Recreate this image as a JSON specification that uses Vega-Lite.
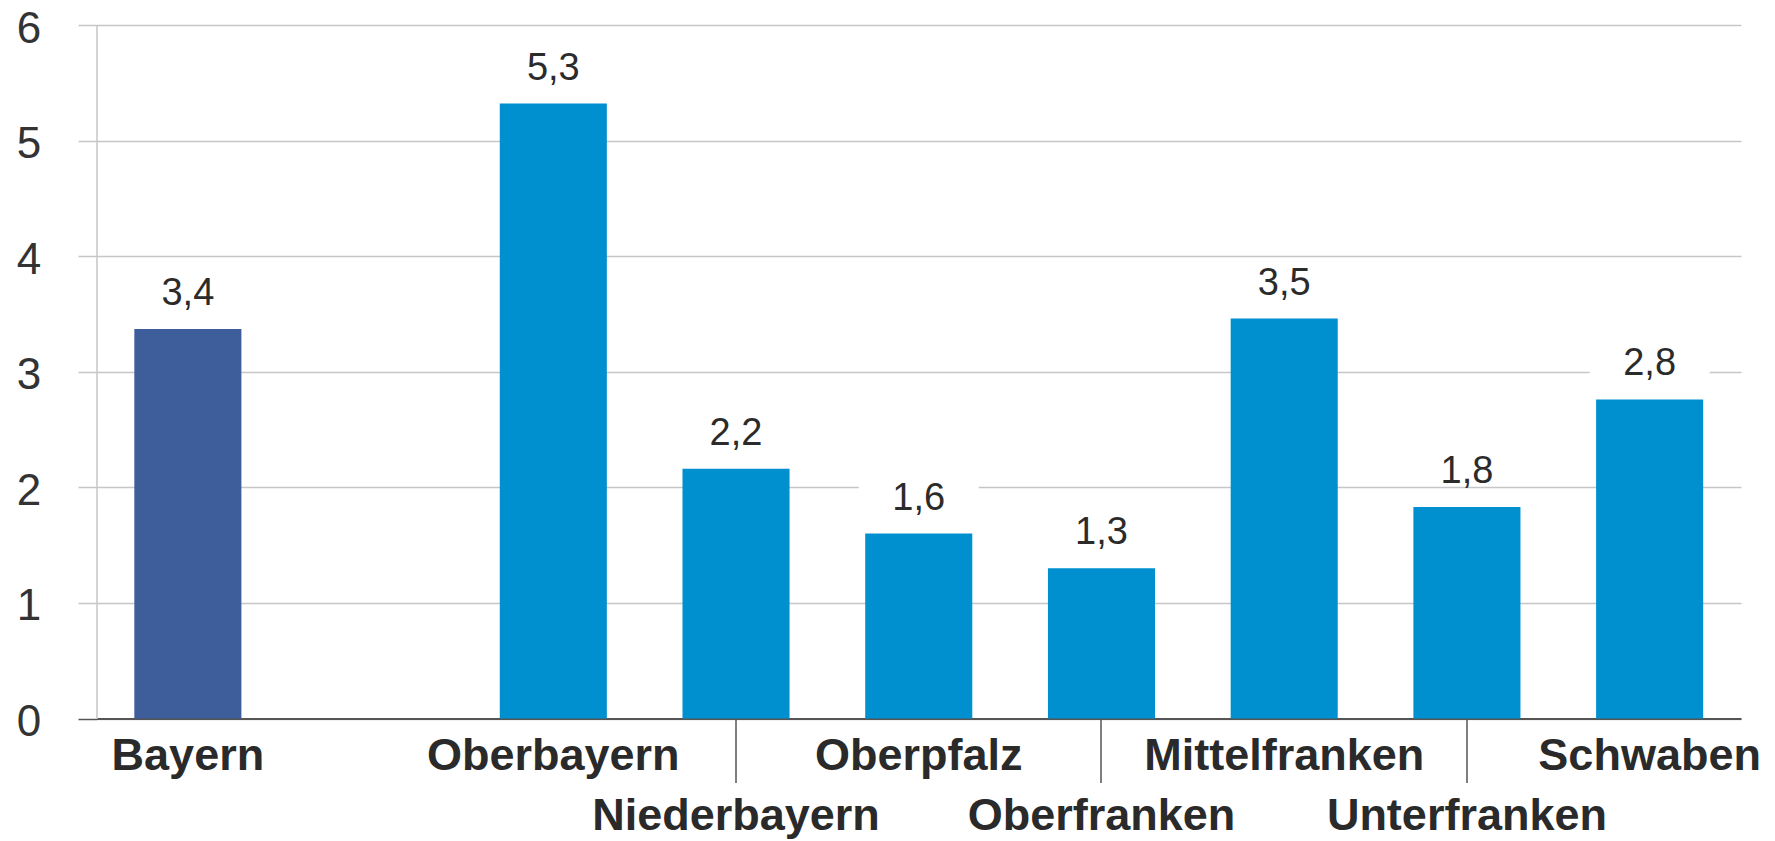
{
  "$schema": "https://vega.github.io/schema/vega-lite/v6.json",
  "width": 1644.5,
  "height": 693.5,
  "autosize": {"type": "none"},
  "padding": {"left": 96.5, "top": 25, "right": 34, "bottom": 122.5},
  "background": "#ffffff",
  "config": {
    "view": {"stroke": null},
    "locale": {"number": {"decimal": ",", "thousands": ".", "grouping": [3], "currency": ["", " €"]}},
    "font": "Liberation Sans"
  },
  "data": {
    "values": [
      {"region": "Bayern", "type": "Land", "value": 3.37},
      {"region": "Oberbayern", "type": "Regierungsbezirk", "value": 5.32},
      {"region": "Niederbayern", "type": "Regierungsbezirk", "value": 2.16},
      {"region": "Oberpfalz", "type": "Regierungsbezirk", "value": 1.6},
      {"region": "Oberfranken", "type": "Regierungsbezirk", "value": 1.3},
      {"region": "Mittelfranken", "type": "Regierungsbezirk", "value": 3.46},
      {"region": "Unterfranken", "type": "Regierungsbezirk", "value": 1.83},
      {"region": "Schwaben", "type": "Regierungsbezirk", "value": 2.76}
    ]
  },
  "encoding": {
    "x": {
      "field": "region",
      "type": "nominal",
      "sort": null,
      "scale": {
        "domain": ["Bayern", "", "Oberbayern", "Niederbayern", "Oberpfalz", "Oberfranken", "Mittelfranken", "Unterfranken", "Schwaben"],
        "paddingInner": 0.414,
        "paddingOuter": 0.207
      },
      "axis": {
        "title": null,
        "labelAngle": 0,
        "labelFont": "Liberation Sans",
        "labelFontWeight": "bold",
        "labelFontSize": 45,
        "labelColor": "#2a2a2a",
        "labelLimit": 0,
        "labelOverlap": false,
        "labelBound": false,
        "labelFlush": false,
        "labelBaseline": "top",
        "labelLineHeight": 60,
        "labelExpr": "indexof(['Niederbayern','Oberfranken','Unterfranken'], datum.value) >= 0 ? ['', datum.value] : datum.value",
        "tickSize": 64,
        "tickWidth": 1.5,
        "tickColor": {"condition": {"test": "indexof(['Niederbayern','Oberfranken','Unterfranken'], datum.value) >= 0", "value": "#555555"}, "value": "transparent"},
        "labelPadding": -49,
        "domainColor": "#555555",
        "domainWidth": 2,
        "grid": false
      }
    },
    "y": {
      "field": "value",
      "type": "quantitative",
      "scale": {"domain": [0, 6], "nice": false},
      "axis": {
        "title": null,
        "values": [0, 1, 2, 3, 4, 5, 6],
        "format": "d",
        "labelFont": "Liberation Sans",
        "labelFontSize": 44,
        "labelColor": "#333333",
        "labelPadding": 37.3,
        "labelOffset": 4,
        "tickSize": 18.5,
        "tickWidth": 1.5,
        "tickColor": {"condition": {"test": "datum.value === 0", "value": "#555555"}, "value": "#c6c6c6"},
        "domainColor": "#c6c6c6",
        "domainWidth": 1.5,
        "grid": true,
        "gridColor": "#c6c6c6",
        "gridWidth": 1.5
      }
    }
  },
  "layer": [
    {
      "mark": {"type": "bar"},
      "encoding": {
        "color": {
          "field": "type",
          "type": "nominal",
          "scale": {"domain": ["Land", "Regierungsbezirk"], "range": ["#3d5e9b", "#0090d0"]},
          "legend": null
        }
      }
    },
    {
      "mark": {
        "type": "point",
        "shape": "M-1,-0.27L1,-0.27L1,0.27L-1,0.27Z",
        "size": 14400,
        "filled": true,
        "fill": "#ffffff",
        "opacity": 1,
        "strokeWidth": 0,
        "yOffset": -38
      }
    },
    {
      "mark": {
        "type": "text",
        "baseline": "alphabetic",
        "align": "center",
        "dy": -24,
        "fontSize": 38,
        "font": "Liberation Sans",
        "color": "#2b2b2b"
      },
      "encoding": {
        "text": {"field": "value", "type": "quantitative", "format": ".1f"}
      }
    }
  ]
}
